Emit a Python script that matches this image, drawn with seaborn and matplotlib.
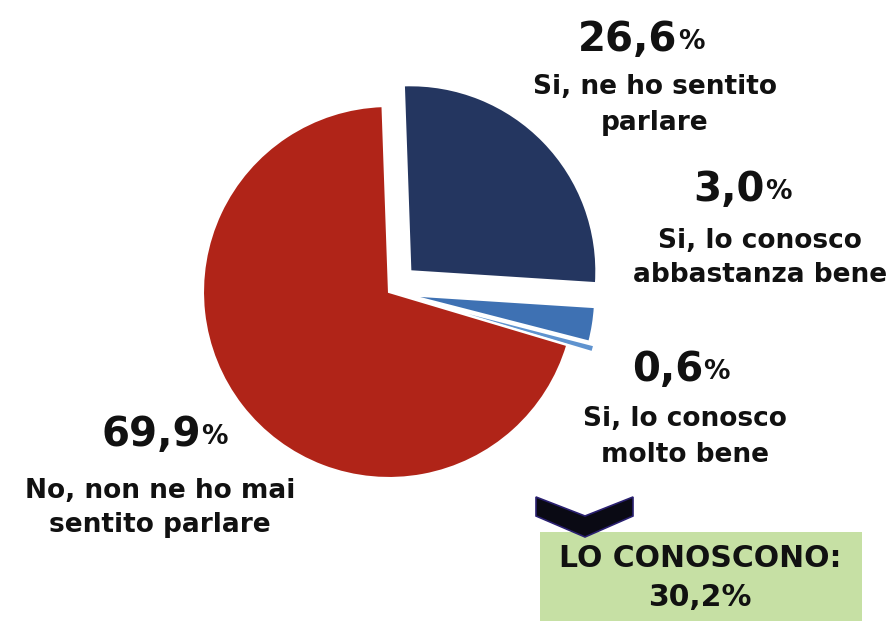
import matplotlib.pyplot as plt
import seaborn as sns
from matplotlib.patches import Rectangle, Polygon

# awareness survey: "have you heard of it?"
answers = ['Si, ne ho sentito\nparlare', 'Si, lo conosco\nabbastanza bene',
           'Si, lo conosco\nmolto bene', 'No, non ne ho mai\nsentito parlare']
shares = [26.6, 3.0, 0.6, 69.9]
share_text = ['26,6', '3,0', '0,6', '69,9']
slice_colors = ['#243660', '#3e71b3', '#5f93cf', '#b02418']
pull_out = [0.16, 0.11, 0.14, 0.0]
total_label = 'LO CONOSCONO:\n30,2%'

sns.set_theme(style='white')
plt.rcParams['font.family'] = ['DejaVu Sans']

fig = plt.figure(figsize=(8.89, 6.21), dpi=100)
ax = fig.add_axes([0, 0, 1, 1])

# pie centred at (0,0) with radius 1; limits map it to pixel position
r_px, cx_px, cy_px = 186, 389, 292
ax.pie(shares, colors=slice_colors, explode=pull_out, startangle=92,
       counterclock=False, radius=1.0,
       wedgeprops={'linewidth': 1.5, 'edgecolor': 'white'})
ax.set_xlim(-cx_px / r_px, (889 - cx_px) / r_px)
ax.set_ylim((cy_px - 621) / r_px, cy_px / r_px)
ax.set_aspect('equal')
ax.axis('off')


def px(x, y):
    return (x - cx_px) / r_px, (cy_px - y) / r_px


# (percent centre, label centre) in pixels
label_pos = [((628, 40), (655, 105)),
             ((729, 190), (760, 258)),
             ((668, 370), (685, 437)),
             ((151, 435), (160, 508))]

for txt, lab, (pc, lc) in zip(share_text, answers, label_pos):
    t = ax.text(*px(*pc), txt, fontsize=29, fontweight='bold', ha='center',
                va='center', color='#111111')
    ax.annotate('%', xy=(1.0, 0.12), xycoords=t, fontsize=19, fontweight='bold',
                ha='left', va='bottom', color='#111111')
    ax.text(*px(*lc), lab, fontsize=19, fontweight='bold', ha='center',
            va='center', linespacing=1.45, color='#111111')

# green total box
x0, y0 = px(540, 621)
x1, y1 = px(862, 532)
ax.add_patch(Rectangle((x0, y0), x1 - x0, y1 - y0, facecolor='#c6e0a4',
                       edgecolor='none', zorder=2))
ax.text(*px(700, 578), total_label, fontsize=21.5, fontweight='bold',
        ha='center', va='center', linespacing=1.45, color='#111111', zorder=3)

# chevron pointing down
chev = [px(536, 497), px(585, 516), px(633, 497), px(633, 516),
        px(585, 537), px(536, 516)]
ax.add_patch(Polygon(chev, closed=True, facecolor='#0a0a14',
                     edgecolor='#2a2070', linewidth=1.2, zorder=4))

fig.savefig('out.png', dpi=100)
